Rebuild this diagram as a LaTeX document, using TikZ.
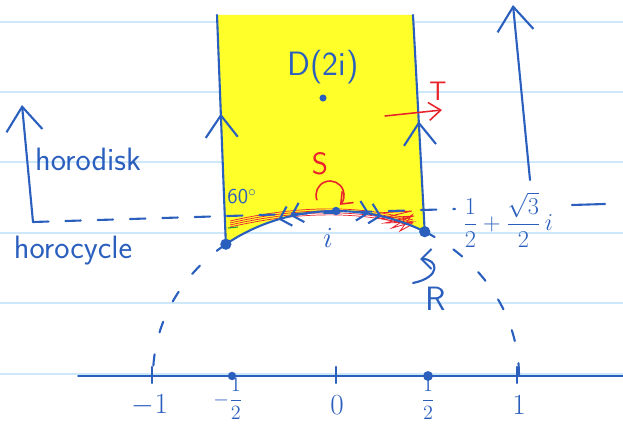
\documentclass[tikz,border=0pt]{standalone}
\usepackage{amsmath}
\usepackage{xcolor}
\usepackage{tikz}
\usetikzlibrary{arrows.meta,positioning,decorations.markings,calc}
\definecolor{penB}{HTML}{2B5FBE}
\definecolor{penR}{HTML}{E8232B}
\definecolor{penG}{HTML}{2E9A3A}
\definecolor{hiY}{HTML}{FFFF2A}
\definecolor{ruleB}{HTML}{CDE8FA}

\tikzset{
  ink/.style={draw=penB, line width=1.5pt, line cap=round, line join=round},
  rink/.style={draw=penR, line width=1.1pt, line cap=round, line join=round},
  bigtip/.style={-{Straight Barb[length=6mm,width=9mm]}},
  hand/.style={text=penB, font=\sffamily\fontsize{20}{22}\selectfont, inner sep=1pt},
  fracs/.style={hand, font=\fontsize{15}{17}\selectfont, inner sep=0pt},
  pdot/.style={circle, fill=penB, inner sep=0pt, minimum size=#1},
  midchev/.style={postaction={decorate}, decoration={markings,
      mark=at position #1 with {\arrow[penB,line width=1.5pt]{Straight Barb[length=5.5mm,width=8mm]}}}},
  dblchev/.style={postaction={decorate}, decoration={markings,
      mark=at position #1 with {\arrow[penB,line width=1.5pt]{Straight Barb[length=2.5mm,width=5mm] Straight Barb[length=2.5mm,width=5mm]}}}},
}

\begin{document}
\begin{tikzpicture}[x=0.025cm, y=0.025cm]
  \useasboundingbox (0,0) rectangle (623,427);
  % notebook paper
  \foreach \ry in {405,335,265,194,124,53}
    \draw[ruleB, line width=0.8pt] (0,\ry) -- (623,\ry);

  % fundamental domain
  \coordinate (o) at (336,51);
  \coordinate (rhoL) at ($(o)+(127:183 and 165)$);
  \coordinate (rhoR) at ($(o)+(61:183 and 165)$);
  \coordinate (ipt) at ($(o)+(90:183 and 165)$);
  \coordinate (topL) at (217,412);
  \coordinate (topR) at (413,412);
  \fill[hiY] (topL) -- (topR) -- (rhoR)
    arc[start angle=61, end angle=127, x radius=183, y radius=165] -- cycle;

  % red scribbles along the bottom
  \foreach \dy in {0,2,4,6}
    \draw[penR, line width=0.5pt] (230,206-\dy) .. controls (300,222-\dy) and (360,222-\dy) .. (413,207-\dy);
  \draw[penR, line width=0.6pt] (378,214) -- (412,216) -- (382,209) -- (414,211) -- (385,204)
    -- (413,205) -- (392,199) -- (412,212) -- (400,196) -- (411,202) -- (375,210);
  \draw[penG, line width=0.8pt] (228,199) -- (238,200);

  \draw[ink, midchev=0.57] (rhoL) -- (topL);
  \draw[ink, midchev=0.51] (rhoR) -- (topR);
  \draw[ink, dblchev=0.5] (ipt) arc[start angle=90, end angle=127, x radius=183, y radius=165];
  \draw[ink, dblchev=0.5] (ipt) arc[start angle=90, end angle=61, x radius=183, y radius=165];
  \draw[ink, dash pattern=on 8pt off 16pt] (rhoL) arc[start angle=127, end angle=180, x radius=183, y radius=165];
  \draw[ink, dash pattern=on 8pt off 16pt] (rhoR) arc[start angle=61, end angle=0, x radius=183, y radius=165];
  \node[pdot=8pt] (rhoLDot) at (rhoL) {};
  \node[pdot=8pt] (rhoRDot) at (rhoR) {};
  \node[pdot=6pt] (iDot) at (ipt) {};
  \node[hand] (iLbl) at (328,189) {$i$};
  \node[hand, font=\sffamily\fontsize{15}{17}\selectfont] (angLbl) at (242,230) {60$^\circ$};

  % D(2i)
  \node[pdot=5pt] (d2i) at (323,329) {};
  \node[hand, font=\sffamily\fontsize{24}{26}\selectfont, above=6pt of d2i] (d2iLbl) {D(2i)};

  % T and S
  \coordinate (tS) at (385,311);
  \coordinate (tE) at (442,317);
  \draw[rink, -{Straight Barb[length=3mm,width=4.5mm]}] (tS) -- (tE);
  \node[text=penR, font=\sffamily\fontsize{19}{21}\selectfont] (tLbl) at (438,336) {T};
  \node[text=penR, font=\sffamily\fontsize{22}{24}\selectfont] (sLbl) at (320,263) {S};
  \coordinate (sArr) at ($(330,232)+(200:14)$);
  \draw[rink, -{Straight Barb[length=2.5mm,width=4mm]}] (sArr) arc[start angle=200, end angle=-45, radius=14];

  % R
  \node[hand, font=\sffamily\fontsize{24}{26}\selectfont] (rLbl) at (436,128) {R};
  \coordinate (rArrS) at (413,144);
  \coordinate (rArrE) at (420,168);
  \draw[ink, -{Straight Barb[length=2.5mm,width=5mm]}] (rArrS) .. controls (442,150) and (438,168) .. (rArrE);

  % horocycle and horodisk
  \coordinate (hcL) at (33,205);
  \coordinate (hcM) at (455,218);
  \node[hand, font=\fontsize{16}{18}\selectfont] (fixp) at (508,207) {$\dfrac{1}{2}+\dfrac{\sqrt{3}}{2}\,i$};
  \coordinate (hcN) at (572,222);
  \coordinate (hcR) at (605,223);
  \draw[ink, dash pattern=on 11pt off 12pt] (hcL) -- (hcM);
  \draw[ink] (hcN) -- (hcR);
  \coordinate (hdTop) at (22,322);
  \draw[ink, bigtip] (hcL) -- (hdTop);
  \node[hand, font=\sffamily\fontsize{23}{25}\selectfont] (hdLbl) at (88,268) {horodisk};
  \node[hand, font=\sffamily\fontsize{23}{25}\selectfont] (hcLbl) at (73,176) {horocycle};
  \coordinate (upS) at (530,247);
  \coordinate (upE) at (513,422);
  \draw[ink, bigtip] (upS) -- (upE);

  % real axis
  \draw[ink, line width=1.3pt] (78,51) -- (623,51);
  \foreach \nm/\px in {m1/152,z0/336,p1/517}
    \draw[ink] (\px,44) -- (\px,60);
  \node[pdot=6pt] (mhDot) at (232,51) {};
  \node[pdot=7pt] (phDot) at (428,51) {};
  \foreach \nm/\px/\lb in {m1/150/$-1$,z0/337/$0$,p1/519/$1$}
    \node[hand] (lb\nm) at (\px,22) {\lb};
  \node[fracs] (lbmh) at (228,28) {$-\dfrac{1}{2}$};
  \node[fracs] (lbph) at (428,28) {$\dfrac{1}{2}$};
\end{tikzpicture}
\end{document}
